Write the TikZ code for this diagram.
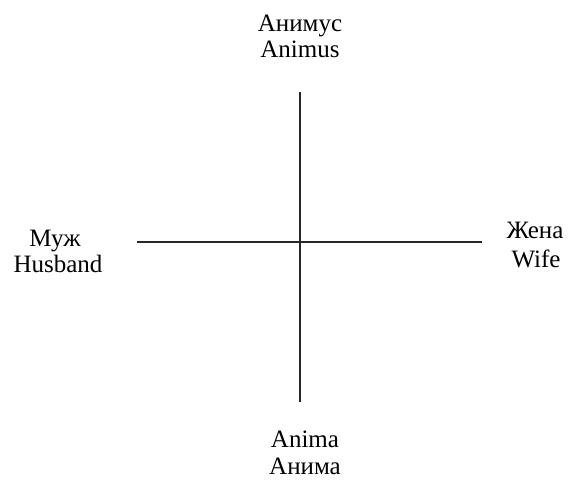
\documentclass[tikz,border=0pt]{standalone}
\usepackage{fontspec}
\setmainfont{Liberation Serif}
\begin{document}
\begin{tikzpicture}[x=1pt,y=-1pt,
  lbl/.style={anchor=base,inner sep=0pt,font=\fontsize{25}{27}\selectfont},
  axis/.style={line width=1.4pt,black!85}]
\useasboundingbox (0,0) rectangle (573,493);
\node[lbl] (t1) at (300,31) {Анимус};
\node[lbl] (t2) at (300,57) {Animus};
\node[lbl] (l1) at (55,246) {Муж};
\node[lbl] (l2) at (58,272) {Husband};
\node[lbl] (r1) at (535,238) {Жена};
\node[lbl] (r2) at (536,267) {Wife};
\node[lbl] (b1) at (305,447) {Anima};
\node[lbl] (b2) at (305,474) {Анима};
\coordinate (vt) at (300,92);
\coordinate (vb) at (300,402);
\coordinate (hl) at (137,242);
\coordinate (hr) at (482,242);
\draw[axis] (vt) -- (vb);
\draw[axis] (hl) -- (hr);
\end{tikzpicture}
\end{document}
